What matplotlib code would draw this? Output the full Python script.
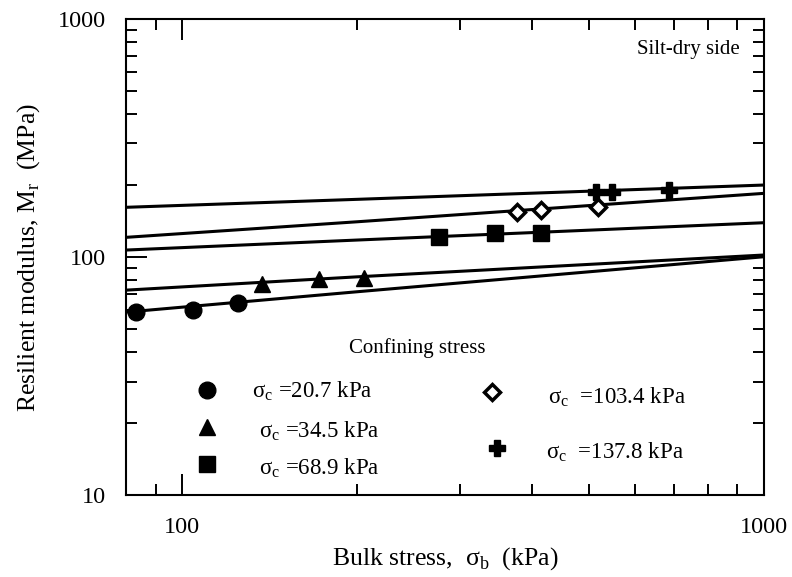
import numpy as np
from matplotlib import pyplot as plt
from matplotlib.ticker import LogLocator, NullFormatter, FixedLocator, FixedFormatter

plt.rcParams['font.family'] = ['Liberation Serif', 'DejaVu Serif']
plt.rcParams['mathtext.fontset'] = 'custom'
plt.rcParams['mathtext.rm'] = 'Liberation Serif'

# measured points, bulk stress (kPa) vs resilient modulus (MPa)
x_207 = [83.4, 104.5, 124.9]
y_207 = [58.6, 60.2, 63.9]
x_345 = [137.1, 172.1, 205.7]
y_345 = [77.4, 80.5, 82.0]
x_689 = [275.8, 344.4, 413.2]
y_689 = [121.0, 125.8, 125.8]
x_1034 = [376.8, 414.4, 517.4]
y_1034 = [154.9, 157.3, 161.7]
x_1378 = [515.2, 547.4, 685.5]
y_1378 = [188.2, 188.2, 191.2]

# model curves read at a few bulk stresses
x_fit = [80, 200, 1000]
fit_207 = [58.7, 71.5, 100.3]
fit_345 = [72.6, 82.6, 102.0]
fit_689 = [107.0, 117.9, 139.4]
fit_1034 = [121.0, 140.7, 185.2]
fit_1378 = [161.8, 174.8, 200.7]

fig = plt.figure(figsize=(7.92, 5.77), dpi=100)
ax = fig.add_axes([0.159, 0.142, 0.8056, 0.825])
ax.set_xscale('log')
ax.set_yscale('log')

for f in [fit_207, fit_345, fit_689, fit_1034, fit_1378]:
    ax.plot(x_fit, f, color='black', lw=2.2, zorder=2)

ax.plot(x_207, y_207, 'o', color='black', ms=12, zorder=3)
ax.plot(x_345, y_345, '^', color='black', ms=12, zorder=3)
ax.plot(x_689, y_689, 's', color='black', ms=12, zorder=3)
ax.plot(x_1034, y_1034, 'D', mfc='white', mec='black', mew=2.5, ms=8, zorder=3)
ax.plot(x_1378, y_1378, 'P', color='black', ms=12, zorder=3)

ax.set_xlim(80, 1000)
ax.set_ylim(10, 1000)

ax.xaxis.set_major_locator(FixedLocator([100, 1000]))
ax.xaxis.set_major_formatter(FixedFormatter(['100', '1000']))
ax.yaxis.set_major_locator(FixedLocator([10, 100, 1000]))
ax.yaxis.set_major_formatter(FixedFormatter(['10', '100', '1000']))
ax.xaxis.set_minor_locator(LogLocator(base=10, subs=np.arange(2, 10)))
ax.yaxis.set_minor_locator(LogLocator(base=10, subs=np.arange(2, 10)))
ax.xaxis.set_minor_formatter(NullFormatter())
ax.yaxis.set_minor_formatter(NullFormatter())

ax.tick_params(which='both', direction='in', top=True, right=True, width=1.4)
ax.tick_params(which='major', length=15, labelsize=17.5)
ax.tick_params(axis='x', which='major', pad=16)
ax.tick_params(axis='y', which='major', pad=14)
ax.tick_params(which='minor', length=8)
for s in ax.spines.values():
    s.set_linewidth(1.5)

ax.set_xlabel(r'Bulk stress,  σ$_\mathrm{b}$  (kPa)', fontsize=18.5, labelpad=5)
ax.set_ylabel(r'Resilient modulus, M$_\mathrm{r}$  (MPa)', fontsize=18.5, labelpad=12)

ax.text(0.9624, 0.935, 'Silt-dry side', transform=ax.transAxes,
        ha='right', va='center', fontsize=15)
ax.text(0.350, 0.308, 'Confining stress', transform=ax.transAxes,
        ha='left', va='center', fontsize=15)

# legend built by hand
leg = [('o', 0.1265, 0.2206, 0.197, 0.218, r'σ$_\mathrm{c}$ =20.7 kPa', {}),
       ('^', 0.1274, 0.1430, 0.209, 0.134, r'σ$_\mathrm{c}$ =34.5 kPa', {}),
       ('s', 0.1274, 0.0651, 0.209, 0.056, r'σ$_\mathrm{c}$ =68.9 kPa', {}),
       ('D', 0.5730, 0.2170, 0.661, 0.206, r'σ$_\mathrm{c}$  =103.4 kPa',
        dict(mfc='white', mec='black', mew=2.5, ms=8)),
       ('P', 0.5810, 0.0980, 0.658, 0.090, r'σ$_\mathrm{c}$  =137.8 kPa', {})]
for m, mx, my, tx, ty, label, kw in leg:
    style = dict(color='black', ms=12)
    style.update(kw)
    ax.plot([mx], [my], m, transform=ax.transAxes, clip_on=False, **style)
    ax.text(tx, ty, label, transform=ax.transAxes, ha='left', va='center', fontsize=16.5)

fig.savefig('out.png', dpi=100)
